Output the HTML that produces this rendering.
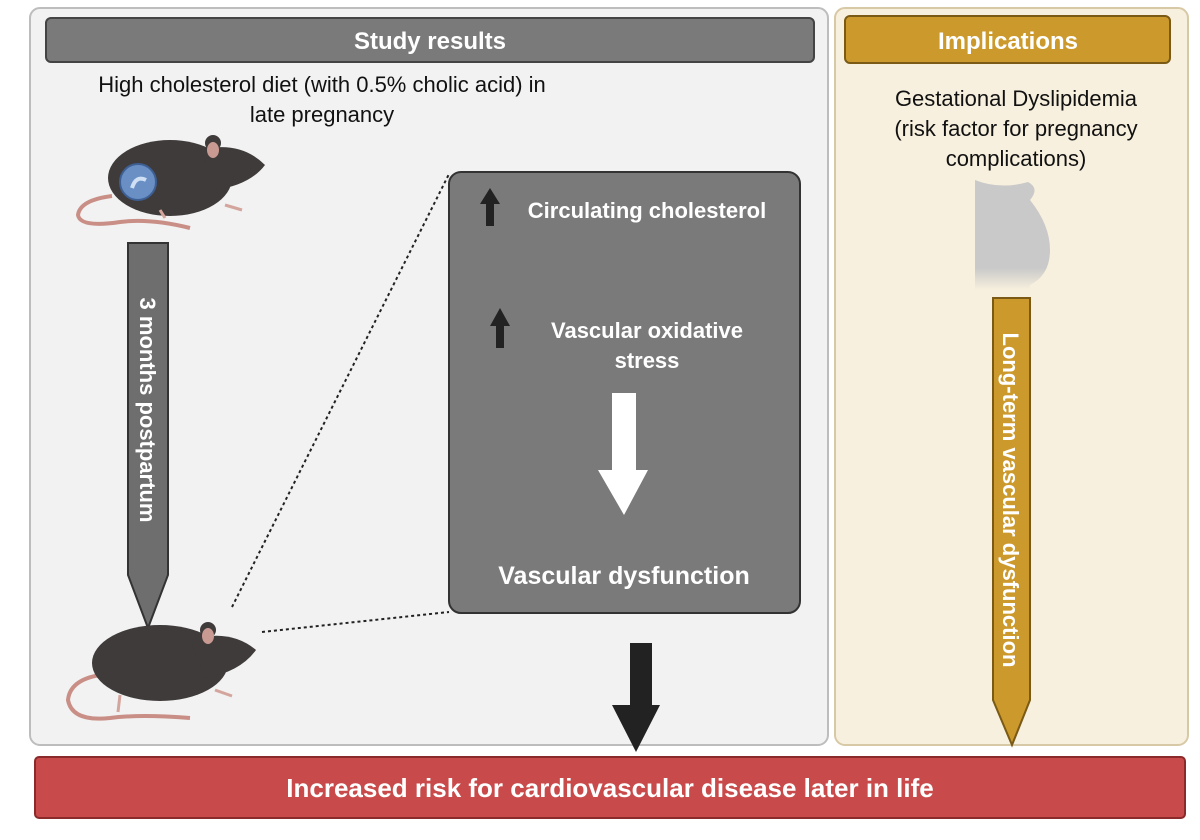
<!DOCTYPE html>
<html><head><meta charset="utf-8"><style>
html,body{margin:0;padding:0;background:#fff;width:1200px;height:840px;overflow:hidden}
svg{display:block;font-family:"Liberation Sans",sans-serif}
</style></head><body>
<svg width="1200" height="840" viewBox="0 0 1200 840" xmlns="http://www.w3.org/2000/svg">
<defs>
<linearGradient id="fade" x1="0" y1="0" x2="0" y2="1">
<stop offset="0" stop-color="#c9c9c9"/><stop offset="0.8" stop-color="#c9c9c9"/><stop offset="1" stop-color="#f8f0de"/>
</linearGradient>
</defs>
<!-- left panel -->
<rect x="30" y="8" width="798" height="737" rx="10" fill="#f2f2f2" stroke="#bdbdbd" stroke-width="2"/>
<rect x="46" y="18" width="768" height="44" rx="5" fill="#7a7a7a" stroke="#444" stroke-width="2"/>
<text x="430" y="49" text-anchor="middle" font-size="24" font-weight="bold" fill="#fff">Study results</text>
<text x="322" y="92" text-anchor="middle" font-size="22" fill="#111">High cholesterol diet (with 0.5% cholic acid) in</text>
<text x="322" y="122" text-anchor="middle" font-size="22" fill="#111">late pregnancy</text>
<!-- right panel -->
<rect x="835" y="8" width="353" height="737" rx="10" fill="#f8f0de" stroke="#d8c9a6" stroke-width="2"/>
<rect x="845" y="16" width="325" height="47" rx="5" fill="#cc9a2c" stroke="#7a5a14" stroke-width="2"/>
<text x="1008" y="49" text-anchor="middle" font-size="24" font-weight="bold" fill="#fff">Implications</text>
<text x="1016" y="106" text-anchor="middle" font-size="22" fill="#111">Gestational Dyslipidemia</text>
<text x="1016" y="136" text-anchor="middle" font-size="22" fill="#111">(risk factor for pregnancy</text>
<text x="1016" y="166" text-anchor="middle" font-size="22" fill="#111">complications)</text>
<!-- pregnant silhouette -->
<path d="M975 180 Q1000 190 1028 182 Q1040 188 1030 200 Q1050 225 1050 250 Q1050 275 1030 285 L1030 290 L975 290 Z" fill="url(#fade)"/>
<!-- gold arrow -->
<path d="M993 298 L1030 298 L1030 700 L1012 745 L993 700 Z" fill="#cc9a2c" stroke="#7a5a14" stroke-width="2"/>
<text transform="translate(1003,500) rotate(90)" text-anchor="middle" font-size="22" font-weight="bold" fill="#fff">Long-term vascular dysfunction</text>
<!-- gray arrow -->
<path d="M128 243 L168 243 L168 575 L148 628 L128 575 Z" fill="#6e6e6e" stroke="#333" stroke-width="2"/>
<text transform="translate(140,410) rotate(90)" text-anchor="middle" font-size="22" font-weight="bold" fill="#fff">3 months postpartum</text>
<!-- dotted lines -->
<line x1="232" y1="607" x2="449" y2="174" stroke="#222" stroke-width="2" stroke-dasharray="3,3"/>
<line x1="262" y1="632" x2="449" y2="612" stroke="#222" stroke-width="2" stroke-dasharray="3,3"/>
<!-- dark box -->
<rect x="449" y="172" width="351" height="441" rx="12" fill="#7a7a7a" stroke="#333" stroke-width="2"/>
<path d="M486 226 L486 204 L480 204 L490 188 L500 204 L494 204 L494 226 Z" fill="#222"/>
<text x="647" y="218" text-anchor="middle" font-size="22" font-weight="bold" fill="#fff">Circulating cholesterol</text>
<path d="M496 348 L496 326 L490 326 L500 308 L510 326 L504 326 L504 348 Z" fill="#222"/>
<text x="647" y="338" text-anchor="middle" font-size="22" font-weight="bold" fill="#fff">Vascular oxidative</text>
<text x="647" y="368" text-anchor="middle" font-size="22" font-weight="bold" fill="#fff">stress</text>
<path d="M612 393 L636 393 L636 470 L648 470 L624 515 L598 470 L612 470 Z" fill="#fff"/>
<text x="624" y="584" text-anchor="middle" font-size="25" font-weight="bold" fill="#fff">Vascular dysfunction</text>
<!-- black arrow -->
<path d="M630 643 L652 643 L652 705 L660 705 L636 752 L612 705 L630 705 Z" fill="#222"/>
<!-- red bar -->
<rect x="35" y="757" width="1150" height="61" rx="4" fill="#c94a4a" stroke="#8b2a2a" stroke-width="2"/>
<text x="610" y="797" text-anchor="middle" font-size="26" font-weight="bold" fill="#fff">Increased risk for cardiovascular disease later in life</text>
<!-- mouse 1 -->
<g>
<path d="M112 196 Q80 200 78 215 Q80 228 120 222 Q150 218 190 228" fill="none" stroke="#c98f86" stroke-width="4"/>
<ellipse cx="170" cy="178" rx="62" ry="38" fill="#3f3b3a"/>
<path d="M200 150 Q240 140 265 165 Q250 185 215 190 Z" fill="#3f3b3a"/>
<ellipse cx="213" cy="143" rx="8" ry="8" fill="#3f3b3a"/>
<ellipse cx="213" cy="150" rx="6" ry="8" fill="#c99a92"/>
<circle cx="138" cy="182" r="18" fill="#6a8fc4" stroke="#3d5f94" stroke-width="2"/>
<path d="M132 188 Q136 175 146 180" stroke="#cfe0f5" stroke-width="4" fill="none"/>
<path d="M225 205 L242 210" stroke="#d4a59c" stroke-width="3"/>
<path d="M160 210 L165 218" stroke="#d4a59c" stroke-width="3"/>
</g>
<!-- mouse 2 -->
<g>
<path d="M100 675 Q70 680 68 700 Q72 722 110 718 Q140 714 190 718" fill="none" stroke="#c98f86" stroke-width="4"/>
<ellipse cx="160" cy="663" rx="68" ry="38" fill="#3f3b3a"/>
<path d="M190 640 Q230 628 256 650 Q240 672 205 678 Z" fill="#3f3b3a"/>
<ellipse cx="208" cy="630" rx="8" ry="8" fill="#3f3b3a"/>
<ellipse cx="208" cy="636" rx="6" ry="8" fill="#c99a92"/>
<path d="M215 690 L232 696" stroke="#d4a59c" stroke-width="3"/>
<path d="M120 695 L118 712" stroke="#d4a59c" stroke-width="3"/>
</g>
</svg>
</body></html>
